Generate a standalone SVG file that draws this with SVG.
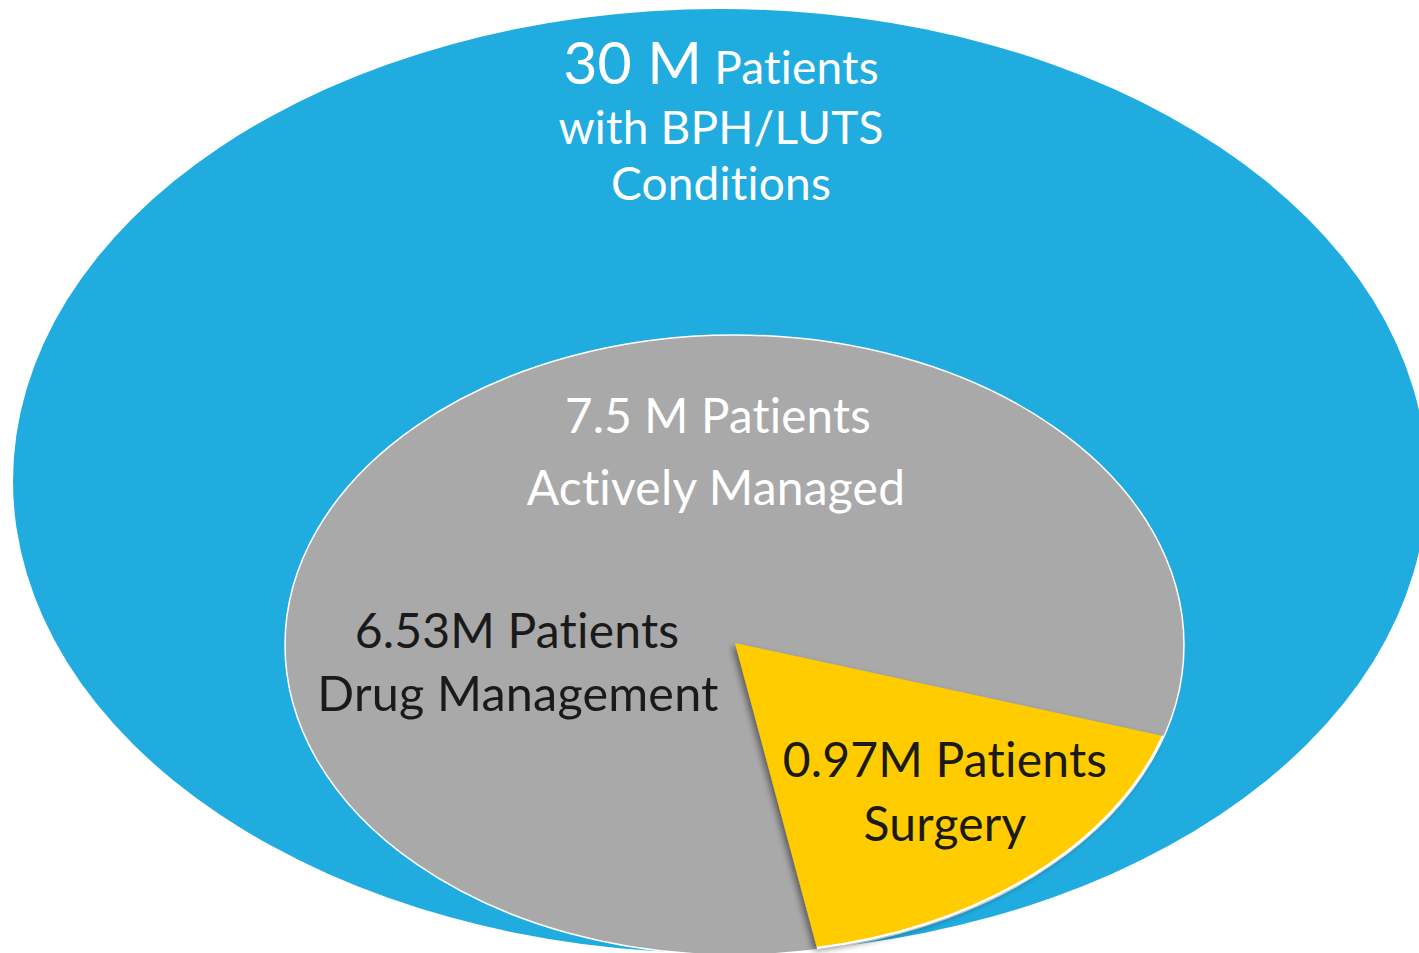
<svg xmlns="http://www.w3.org/2000/svg" width="1419" height="953" viewBox="0 0 1419 953">
<style>
text{font-family:Lato,"Open Sans","Liberation Sans",sans-serif;text-anchor:middle;font-variant-ligatures:none;font-feature-settings:"liga" 0,"clig" 0,"calt" 0,"dlig" 0;letter-spacing:0.2px}
.w{fill:#ffffff}
.k{fill:#1a1a1a}
</style>
<defs>
<filter id="sh" x="-20%" y="-20%" width="140%" height="140%">
<feDropShadow dx="-3" dy="3" stdDeviation="3" flood-color="#000" flood-opacity="0.45"/>
</filter>
</defs>
<rect width="1419" height="953" fill="#ffffff"/>
<g id="all-patients">
<ellipse cx="720" cy="481" rx="707" ry="472" fill="#21acdf"/>
<text class="w" x="721" y="84"><tspan font-size="59">30 M</tspan><tspan font-size="46"> Patients</tspan></text>
<text class="w" x="721" y="144" font-size="46">with BPH/LUTS</text>
<text class="w" x="721" y="200" font-size="46">Conditions</text>
</g>
<g id="actively-managed">
<ellipse cx="734.5" cy="645" rx="449.5" ry="310" fill="#a9a9a9" stroke="#ffffff" stroke-width="1.5"/>
<text class="w" x="718" y="433" font-size="47.5">7.5 M Patients</text>
<text class="w" x="716" y="505" font-size="48">Actively Managed</text>
</g>
<g id="drug-management">
<text class="k" x="517" y="648" font-size="48">6.53M Patients</text>
<text class="k" x="518" y="711" font-size="48.5">Drug Management</text>
</g>
<g id="surgery">
<path d="M735,643 L1163,736 A449.5,310 0 0,1 817,948 Z" fill="#ffcc00" filter="url(#sh)"/>
<path d="M1163,736 A449.5,310 0 0,1 817,948" fill="none" stroke="#ffffff" stroke-width="2.5"/>
<text class="k" x="945" y="777" font-size="48">0.97M Patients</text>
<text class="k" x="945" y="841" font-size="48">Surgery</text>
</g>
</svg>
